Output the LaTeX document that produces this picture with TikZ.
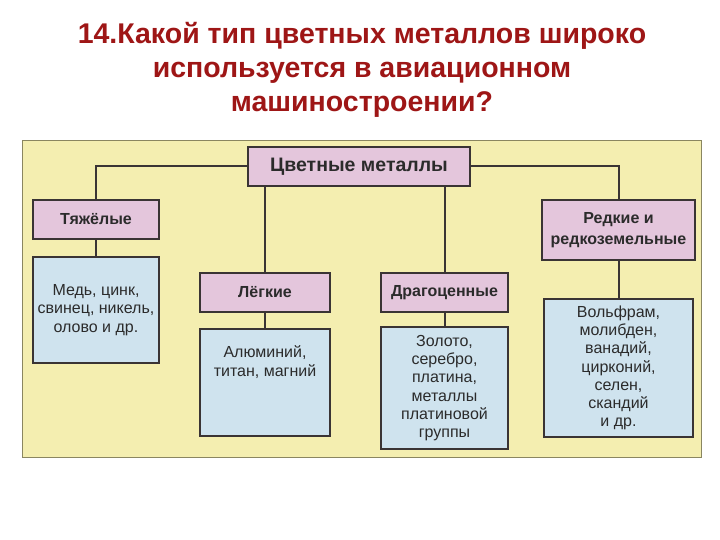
\documentclass[tikz,border=0pt]{standalone}
\usepackage{fontspec}
\setmainfont{Liberation Sans}
\usepackage{tikz}
\usetikzlibrary{positioning}
\definecolor{SlideRed}{HTML}{9E1616}
\definecolor{ChartYellow}{HTML}{F4EEB0}
\definecolor{ChartFrame}{HTML}{8A8660}
\definecolor{BoxPink}{HTML}{E4C6DC}
\definecolor{BoxBlue}{HTML}{CFE3EE}
\definecolor{BoxLine}{HTML}{3A3434}
\definecolor{BoxText}{HTML}{2B2B2B}

\begin{document}
\begin{tikzpicture}[x=1pt,y=-1pt,
    hd/.style={draw=BoxLine,fill=BoxPink,line width=2.3pt,text=BoxText,align=center,inner sep=0pt,
      font=\fontsize{16pt}{21pt}\selectfont\bfseries},
    cb/.style={draw=BoxLine,fill=BoxBlue,line width=2.3pt,text=BoxText,align=center,inner sep=0pt,
      font=\fontsize{16pt}{18.2pt}\selectfont},
    ln/.style={line width=2pt,color=BoxLine}]
  \useasboundingbox (0,0) rectangle (720,540);
  \node[text=SlideRed,align=center,font=\fontsize{28.5pt}{34pt}\selectfont\bfseries] (title) at (362,70)
    {14.Какой тип цветных металлов широко\\используется в авиационном\\машиностроении?};
  \draw[draw=ChartFrame,fill=ChartYellow,line width=0.8pt] (22,140) rectangle (701,457);
  % headers
  \node[hd,minimum width=222pt,minimum height=39pt,font=\fontsize{19.5pt}{22pt}\selectfont\bfseries] (top) at (359,166.5) {Цветные металлы};
  \node[hd,minimum width=126pt,minimum height=39pt] (heavy) at (96,219.5) {Тяжёлые};
  \node[hd,minimum width=130pt,minimum height=39pt] (light) at (265,292.5) {Лёгкие};
  \node[hd,minimum width=127pt,minimum height=39pt] (noble) at (444.5,292.5) {Драгоценные};
  \node[hd,minimum width=153pt,minimum height=60pt] (rare) at (618.5,230) {Редкие и\\редкоземельные};
  % contents
  \node[cb,minimum width=126pt,minimum height=106pt] (heavyx) at (96,310) {Медь, цинк,\\свинец, никель,\\олово и др.};
  \node[cb,minimum width=130pt,minimum height=107pt] (lightx) at (265,382.5) {};
  \node[text=BoxText,align=center,font=\fontsize{16pt}{18.2pt}\selectfont] (lightt) at (265,362) {Алюминий,\\титан, магний};
  \node[cb,minimum width=127pt,minimum height=122pt] (noblex) at (444.5,388) {Золото,\\серебро,\\платина,\\металлы\\платиновой\\группы};
  \node[cb,minimum width=149pt,minimum height=138pt] (rarex) at (618.5,368) {Вольфрам,\\молибден,\\ванадий,\\цирконий,\\селен,\\скандий\\и др.};
  % connectors
  \draw[ln] (top.west) -| (heavy.north);
  \draw[ln] (top.east) -| (rare.north);
  \foreach \a in {light,noble}{\draw[ln] (\a.north) -- (\a.north |- top.south);}
  \foreach \a/\b in {heavy/heavyx,light/lightx,noble/noblex,rare/rarex}{\draw[ln] (\a) -- (\b);}
\end{tikzpicture}
\end{document}
